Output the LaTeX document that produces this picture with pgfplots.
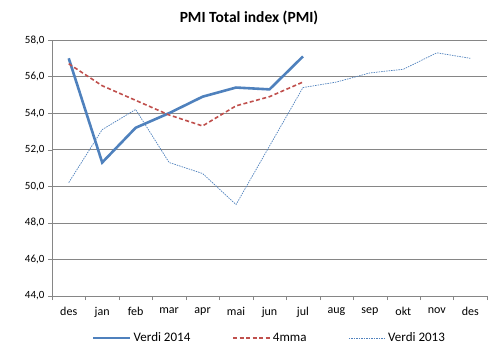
\documentclass[border=0pt]{standalone}
\usepackage{pgfplots}
\pgfplotsset{compat=1.18}
\usepackage{fontspec}
\setmainfont{Carlito}
\definecolor{b14}{HTML}{4F81BD}
\definecolor{r4}{HTML}{C0504D}
\definecolor{gr}{HTML}{868686}
\begin{document}
\begin{tikzpicture}
\useasboundingbox (0pt,0pt) rectangle (498pt,357pt);
\node[font=\fontsize{15.5}{18}\selectfont\bfseries] at (249pt,339pt) {PMI Total index (PMI)};
\begin{axis}[
  at={(52pt,61pt)}, anchor=south west,
  scale only axis, width=435pt, height=256pt,
  xmin=-0.5, xmax=12.5, ymin=44, ymax=58,
  xtick={0,...,12},
  xticklabels={des,jan,feb,mar,apr,mai,jun,jul,aug,sep,okt,nov,des},
  minor xtick={-0.5,0.5,...,12.5},
  ytick={44,46,...,58},
  major x tick style={draw=none},
  tick align=outside,
  minor tick length=4pt, major tick length=4pt,
  tick style={gr},
  axis x line*=bottom, axis y line*=left,
  axis line style={gr},
  ymajorgrids, grid style={gr, line width=0.6pt},
  y tick label style={font=\fontsize{11}{13}\selectfont, /pgf/number format/.cd, fixed, fixed zerofill, precision=1, use comma},
  /pgf/number format/assume math mode=true,
  x tick label style={font=\fontsize{12}{14}\selectfont, yshift=-4pt},
  legend style={at={(0.5,-0.164)}, anchor=center, draw=none, fill=none, font=\fontsize{13}{15}\selectfont, /tikz/every even column/.append style={column sep=40pt}},
  legend cell align=left,
  legend columns=3,
  legend image code/.code={\draw[#1] (0pt,0pt) -- (37pt,0pt);},
]
\addplot[b14, line width=2.6pt] coordinates {(0,57.0)(1,51.3)(2,53.2)(3,54.0)(4,54.9)(5,55.4)(6,55.3)(7,57.1)};
\addlegendentry{Verdi 2014}
\addplot[r4, line width=1.6pt, dash pattern=on 4pt off 2.5pt] coordinates {(0,56.7)(1,55.5)(2,54.7)(3,53.9)(4,53.3)(5,54.4)(6,54.9)(7,55.7)};
\addlegendentry{4mma}
\addplot[b14, line width=0.7pt, dash pattern=on 1.5pt off 1pt] coordinates {(0,50.2)(1,53.1)(2,54.2)(3,51.3)(4,50.7)(5,49.0)(6,52.2)(7,55.4)(8,55.7)(9,56.2)(10,56.4)(11,57.3)(12,57.0)};
\addlegendentry{Verdi 2013}
\end{axis}
\end{tikzpicture}
\end{document}
